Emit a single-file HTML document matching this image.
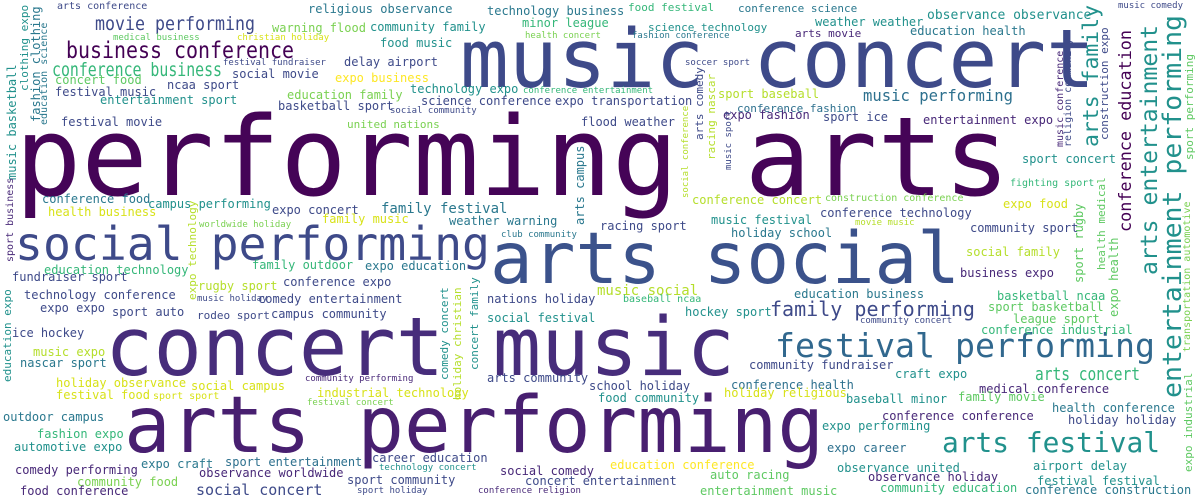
<!DOCTYPE html>
<html><head><meta charset="utf-8"><title>Word cloud</title>
<style>
html,body{margin:0;padding:0;background:#fff;}
svg{display:block;}
text{font-family:"DejaVu Sans Mono","Liberation Mono",monospace;}
</style></head>
<body>
<svg id="cloud" xmlns="http://www.w3.org/2000/svg" width="1200" height="500" viewBox="0 0 1200 500">
<rect width="1200" height="500" fill="#ffffff"/>
</svg>
<script>
// words, placement (x, baseline y), font size, colour, vertical flag, fitted length (0 = natural)
const words = [
["performing arts",15,195,110,"#450457",0,995],
["music concert",460,87,81,"#3e4a89",0,635],
["arts social",490,283,71,"#3b528b",0,470],
["social performing",15,260,46,"#3e4a89",0,475],
["concert music",105,375,81,"#472d7b",0,630],
["arts performing",124,452,78,"#481f70",0,700],
["festival performing",775,357,33,"#31688e",0,380],
["arts festival",942,452,28,"#21918c",0,218],
["family performing",770,316,20,"#3e4a89",0,205],
["business conference",66,58,23,"#440154",0,228],
["movie performing",95,30,19,"#3e4a89",0,160],
["conference business",52,76,19,"#35b779",0,170],
["music performing",863,101,16,"#2d708e",0,150],
["arts concert",1035,380,18,"#35b779",0,105],
["entertainment performing",1181,398,26,"#21918c",1,383],
["arts entertainment",1157,275,23,"#21918c",1,250],
["arts family",1098,147,21,"#21918c",1,142],
["conference education",1131,232,17,"#440154",1,202],
["arts conference",57,9,10,"#3e4a89",0,0],
["religious observance",308,13,12,"#2a788e",0,0],
["technology business",487,15,12,"#2a788e",0,0],
["food festival",628,11,11,"#35b779",0,0],
["conference science",738,12,11,"#2a788e",0,0],
["music comedy",1118,8,9,"#3e4a89",0,0],
["medical business",113,40,9,"#5ec962",0,0],
["warning flood",272,32,12,"#7ad151",0,0],
["community family",370,31,12,"#21918c",0,0],
["minor league",522,27,12,"#35b779",0,0],
["science technology",648,31,11,"#21918c",0,0],
["weather weather",815,26,12,"#21918c",0,0],
["observance observance",927,19,13,"#21918c",0,0],
["christian holiday",237,40,9,"#d8e219",0,0],
["health concert",525,38,9,"#7ad151",0,0],
["fashion conference",632,38,9,"#2a788e",0,0],
["arts movie",795,37,11,"#482878",0,0],
["education health",910,35,12,"#2a788e",0,0],
["food music",380,47,12,"#21918c",0,0],
["festival fundraiser",223,65,9,"#3e4a89",0,0],
["delay airport",344,66,12,"#3e4a89",0,0],
["soccer sport",685,65,9,"#3e4a89",0,0],
["concert food",55,84,12,"#5ec962",0,0],
["social movie",232,78,12,"#3e4a89",0,0],
["expo business",335,82,12,"#fde725",0,0],
["technology expo",410,93,12,"#21918c",0,0],
["conference entertainment",523,93,9,"#35b779",0,0],
["festival music",55,96,12,"#3e4a89",0,0],
["ncaa sport",167,89,12,"#3e4a89",0,0],
["entertainment sport",100,104,12,"#21918c",0,0],
["education family",287,99,12,"#7ad151",0,0],
["basketball sport",278,110,12,"#3e4a89",0,0],
["social community",390,113,9,"#3e4a89",0,0],
["science conference",421,105,12,"#3e4a89",0,0],
["expo transportation",555,105,12,"#3e4a89",0,0],
["sport baseball",718,98,12,"#b5de2b",0,0],
["conference fashion",737,112,11,"#2d708e",0,0],
["festival movie",61,126,12,"#3e4a89",0,0],
["united nations",347,128,11,"#7ad151",0,0],
["flood weather",581,126,12,"#3e4a89",0,0],
["expo fashion",723,119,12,"#482878",0,0],
["sport ice",823,121,12,"#3e4a89",0,0],
["entertainment expo",923,124,12,"#482878",0,0],
["sport concert",1022,163,12,"#21918c",0,0],
["fighting sport",1010,186,10,"#35b779",0,0],
["expo food",1003,208,12,"#d8e219",0,0],
["conference food",42,203,12,"#2a788e",0,0],
["campus performing",148,208,12,"#21918c",0,0],
["expo concert",272,214,12,"#3e4a89",0,0],
["family festival",381,213,14,"#2a788e",0,0],
["conference concert",692,204,12,"#b5de2b",0,0],
["construction conference",825,201,10,"#7ad151",0,0],
["conference technology",820,217,12,"#3e4a89",0,0],
["health business",48,216,12,"#d8e219",0,0],
["family music",322,223,12,"#d8e219",0,0],
["weather warning",449,225,12,"#2a788e",0,0],
["worldwide holiday",199,227,9,"#7ad151",0,0],
["movie music",855,225,9,"#b5de2b",0,0],
["music festival",711,224,12,"#21918c",0,0],
["holiday school",731,237,12,"#2a788e",0,0],
["racing sport",600,230,12,"#3e4a89",0,0],
["club community",501,237,9,"#2a788e",0,0],
["community sport",970,232,12,"#3e4a89",0,0],
["social family",966,256,12,"#b5de2b",0,0],
["family outdoor",252,269,12,"#35b779",0,0],
["expo education",365,270,12,"#2a788e",0,0],
["education technology",44,274,12,"#35b779",0,0],
["fundraiser sport",12,281,12,"#3e4a89",0,0],
["business expo",960,277,12,"#482878",0,0],
["conference expo",283,286,12,"#3e4a89",0,0],
["rugby sport",198,290,12,"#b5de2b",0,0],
["music social",597,295,14,"#b5de2b",0,0],
["technology conference",24,299,12,"#3e4a89",0,0],
["music holiday",197,301,9,"#3e4a89",0,0],
["comedy entertainment",258,303,12,"#3e4a89",0,0],
["baseball ncaa",623,302,10,"#35b779",0,0],
["nations holiday",487,303,12,"#3e4a89",0,0],
["education business",794,298,12,"#2a788e",0,0],
["basketball ncaa",997,300,12,"#35b779",0,0],
["sport basketball",988,311,12,"#5ec962",0,0],
["expo expo",40,312,12,"#3e4a89",0,0],
["sport auto",112,316,12,"#3e4a89",0,0],
["rodeo sport",197,319,11,"#3e4a89",0,0],
["campus community",271,318,12,"#3e4a89",0,0],
["hockey sport",685,316,12,"#21918c",0,0],
["league sport",1013,323,12,"#5ec962",0,0],
["community concert",860,323,9,"#3e4a89",0,0],
["social festival",487,322,12,"#21918c",0,0],
["conference industrial",981,334,12,"#35b779",0,0],
["ice hockey",12,337,12,"#3e4a89",0,0],
["music expo",33,356,12,"#b5de2b",0,0],
["nascar sport",20,367,12,"#2a788e",0,0],
["community fundraiser",749,369,12,"#3e4a89",0,0],
["holiday observance",56,387,12,"#d8e219",0,0],
["community performing",305,381,9,"#482878",0,0],
["arts community",487,382,12,"#3e4a89",0,0],
["school holiday",589,390,12,"#3e4a89",0,0],
["conference health",731,389,12,"#2d708e",0,0],
["craft expo",895,378,12,"#21918c",0,0],
["medical conference",979,393,12,"#482878",0,0],
["social campus",191,390,12,"#d8e219",0,0],
["industrial technology",317,397,12,"#d8e219",0,0],
["festival food",56,399,12,"#d8e219",0,0],
["sport sport",153,399,10,"#d8e219",0,0],
["holiday religious",724,397,12,"#d8e219",0,0],
["food community",598,402,12,"#21918c",0,0],
["festival concert",307,405,9,"#7ad151",0,0],
["baseball minor",846,403,12,"#21918c",0,0],
["family movie",958,401,12,"#5ec962",0,0],
["outdoor campus",3,421,12,"#2a788e",0,0],
["conference conference",882,420,12,"#482878",0,0],
["health conference",1052,412,12,"#2a788e",0,0],
["holiday holiday",1068,424,12,"#3e4a89",0,0],
["fashion expo",37,438,12,"#35b779",0,0],
["expo performing",822,430,12,"#21918c",0,0],
["automotive expo",14,451,12,"#21918c",0,0],
["expo career",827,452,12,"#2d708e",0,0],
["comedy performing",15,474,12,"#482878",0,0],
["expo craft",141,468,12,"#2a788e",0,0],
["sport entertainment",225,466,12,"#2d708e",0,0],
["career education",372,462,12,"#3e4a89",0,0],
["observance united",837,472,12,"#21918c",0,0],
["airport delay",1033,470,12,"#21918c",0,0],
["observance worldwide",199,477,12,"#482878",0,0],
["technology concert",379,470,9,"#21918c",0,0],
["social comedy",500,475,12,"#482878",0,0],
["education conference",610,469,12,"#fde725",0,0],
["auto racing",710,479,12,"#5ec962",0,0],
["observance holiday",868,481,12,"#482878",0,0],
["festival festival",1037,485,12,"#21918c",0,0],
["community food",77,486,12,"#7ad151",0,0],
["sport community",347,484,12,"#3e4a89",0,0],
["concert entertainment",525,485,12,"#3e4a89",0,0],
["social concert",196,495,15,"#3e4a89",0,0],
["food conference",20,495,12,"#482878",0,0],
["sport holiday",357,493,9,"#3e4a89",0,0],
["conference religion",478,493,9,"#482878",0,0],
["entertainment music",700,495,12,"#5ec962",0,0],
["community education",880,492,12,"#35b779",0,0],
["conference construction",1025,494,12,"#2a788e",0,0],
["clothing expo",28,91,11,"#21918c",1,0],
["fashion clothing",40,122,12,"#2a788e",1,0],
["education science",47,125,10,"#2a788e",1,0],
["music basketball",16,180,12,"#21918c",1,0],
["sport business",13,262,10,"#482878",1,0],
["education expo",11,382,11,"#21918c",1,0],
["construction expo",1108,140,11,"#3e4a89",1,0],
["religion community",1071,147,10,"#3e4a89",1,0],
["music conference",1063,147,10,"#482878",1,0],
["sport performing",1193,160,11,"#5ec962",1,0],
["arts comedy",703,140,11,"#3e4a89",1,0],
["racing nascar",715,160,11,"#b5de2b",1,0],
["music sport",731,170,9,"#3e4a89",1,0],
["social conference",688,198,9,"#b5de2b",1,0],
["arts campus",584,225,12,"#2a788e",1,0],
["expo technology",196,300,11,"#b5de2b",1,0],
["health medical",1105,270,11,"#5ec962",1,0],
["sport rugby",1083,283,12,"#5ec962",1,0],
["expo health",1118,317,12,"#5ec962",1,0],
["comedy concert",448,380,11,"#21918c",1,0],
["holiday christian",461,400,11,"#b5de2b",1,0],
["concert family",478,370,11,"#21918c",1,0],
["transportation automotive",1190,352,10,"#7ad151",1,0],
["expo industrial",1192,472,11,"#5ec962",1,0]
];
const svg = document.getElementById('cloud');
const NS = "http://www.w3.org/2000/svg";
words.forEach(function(w){
  const t = document.createElementNS(NS,'text');
  t.setAttribute('x', w[1]);
  t.setAttribute('y', w[2]);
  t.setAttribute('font-size', w[3]);
  t.setAttribute('fill', w[4]);
  if (w[5]) t.setAttribute('transform','rotate(-90 '+w[1]+' '+w[2]+')');
  if (w[6]) { t.setAttribute('textLength', w[6]); t.setAttribute('lengthAdjust','spacingAndGlyphs'); }
  t.textContent = w[0];
  
  
  svg.appendChild(t);
});
</script>
</body></html>
